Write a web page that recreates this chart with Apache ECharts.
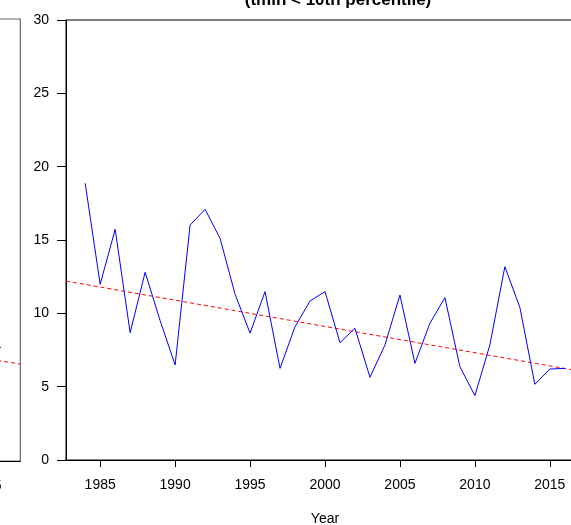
<!DOCTYPE html>
<html><head><meta charset="utf-8">
<script src="https://cdn.jsdelivr.net/npm/echarts/dist/echarts.min.js"></script>
<style>html,body{margin:0;padding:0;background:#fff;overflow:hidden}#c{width:571px;height:525px}</style>
</head><body><div id="c"></div>
<script>
// ---- data ----
const years = [1984,1985,1986,1987,1988,1989,1990,1991,1992,1993,1994,1995,1996,1997,1998,1999,2000,
               2001,2002,2003,2004,2005,2006,2007,2008,2009,2010,2011,2012,2013,2014,2015,2016];
const coldNights = [18.87,11.98,15.73,8.68,12.80,9.5,6.48,16.02,17.09,15.11,11.3,8.65,11.48,6.25,9.09,10.84,11.48,
                    8.0,8.98,5.64,7.84,11.25,6.59,9.32,11.07,6.36,4.39,7.84,13.18,10.41,5.16,6.2,6.25];
const trendYears = [1982.72, 2017.28];
const trendValues = [12.2, 6.01];
const xTickYears = [1985,1990,1995,2000,2005,2010,2015];
// neighbouring (cropped) panel on the left
const prevYears = [2015, 2016];
const prevValues = [7.65, 7.7];
const prevTrendYears = [2013, 2017.28];
const prevTrendValues = [7.28, 6.58];
const prevTickYears = [2015];
const titleText = '(tmin < 10th percentile)';
const xTitle = 'Year';

const FONT = '"Liberation Sans", Arial, Helvetica, sans-serif';
const zip = (a, b) => a.map((v, i) => [v, b[i]]);
const plain = v => String(v);

const chart = echarts.init(document.getElementById('c'), null, {renderer: 'canvas'});
chart.setOption({
  animation: false,
  backgroundColor: '#fff',
  grid: [
    {left: 66, top: 20, width: 518, height: 440, show: true, borderColor: '#000', borderWidth: 1,
     backgroundColor: 'transparent', containLabel: false, outerBoundsMode: 'none'},
    {left: -44.2, top: 19, width: 64.5, height: 442, show: true, borderColor: '#666', borderWidth: 1.2,
     backgroundColor: 'transparent', containLabel: false, outerBoundsMode: 'none'}
  ],
  xAxis: [
    {gridIndex: 0, type: 'value', min: trendYears[0], max: trendYears[1],
     axisLine: {show: true, onZero: false, lineStyle: {color: '#000', width: 1}},
     axisTick: {show: true, length: 7, customValues: xTickYears, lineStyle: {color: '#000'}},
     axisLabel: {show: true, margin: 18, customValues: xTickYears, formatter: plain, color: '#000', fontSize: 14, fontFamily: FONT},
     splitLine: {show: false}},
    {gridIndex: 1, type: 'value', min: prevTrendYears[0], max: prevTrendYears[1],
     axisLine: {show: true, onZero: false, lineStyle: {color: '#000', width: 1}},
     axisTick: {show: true, length: 7, customValues: prevTickYears, lineStyle: {color: '#000'}},
     axisLabel: {show: true, margin: 18, customValues: prevTickYears, formatter: plain, color: '#000', fontSize: 14, fontFamily: FONT},
     splitLine: {show: false}}
  ],
  yAxis: [
    {gridIndex: 0, type: 'value', min: 0, max: 30, interval: 5,
     axisLine: {show: true, lineStyle: {color: '#000', width: 1}},
     axisTick: {show: true, length: 9, lineStyle: {color: '#000'}},
     axisLabel: {show: true, margin: 17, color: '#000', fontSize: 14, fontFamily: FONT},
     splitLine: {show: false}},
    {gridIndex: 1, type: 'value', min: 0, max: 30, interval: 5,
     axisLine: {show: false}, axisTick: {show: false}, axisLabel: {show: false}, splitLine: {show: false}}
  ],
  series: [
    {type: 'line', xAxisIndex: 0, yAxisIndex: 0, data: zip(years, coldNights), showSymbol: false, symbol: 'none',
     lineStyle: {color: '#0000ff', width: 1}, z: 3},
    {type: 'line', xAxisIndex: 0, yAxisIndex: 0, data: zip(trendYears, trendValues), showSymbol: false, symbol: 'none',
     lineStyle: {color: '#ff0000', width: 1, type: [4, 3]}, z: 2},
    {type: 'line', xAxisIndex: 1, yAxisIndex: 1, data: zip(prevYears, prevValues), showSymbol: false, symbol: 'none',
     lineStyle: {color: '#0000ff', width: 1}, z: 3},
    {type: 'line', xAxisIndex: 1, yAxisIndex: 1, data: zip(prevTrendYears, prevTrendValues), showSymbol: false, symbol: 'none',
     lineStyle: {color: '#ff0000', width: 1, type: [4, 3]}, z: 2}
  ],
  graphic: [
    {type: 'text', x: 338, y: 0, style: {text: titleText, fill: '#000', font: 'bold 17px ' + FONT, align: 'center', verticalAlign: 'middle'}},
    {type: 'text', x: 325, y: 519, style: {text: xTitle, fill: '#000', font: '14px ' + FONT, align: 'center', verticalAlign: 'middle'}}
  ]
});
</script></body></html>
